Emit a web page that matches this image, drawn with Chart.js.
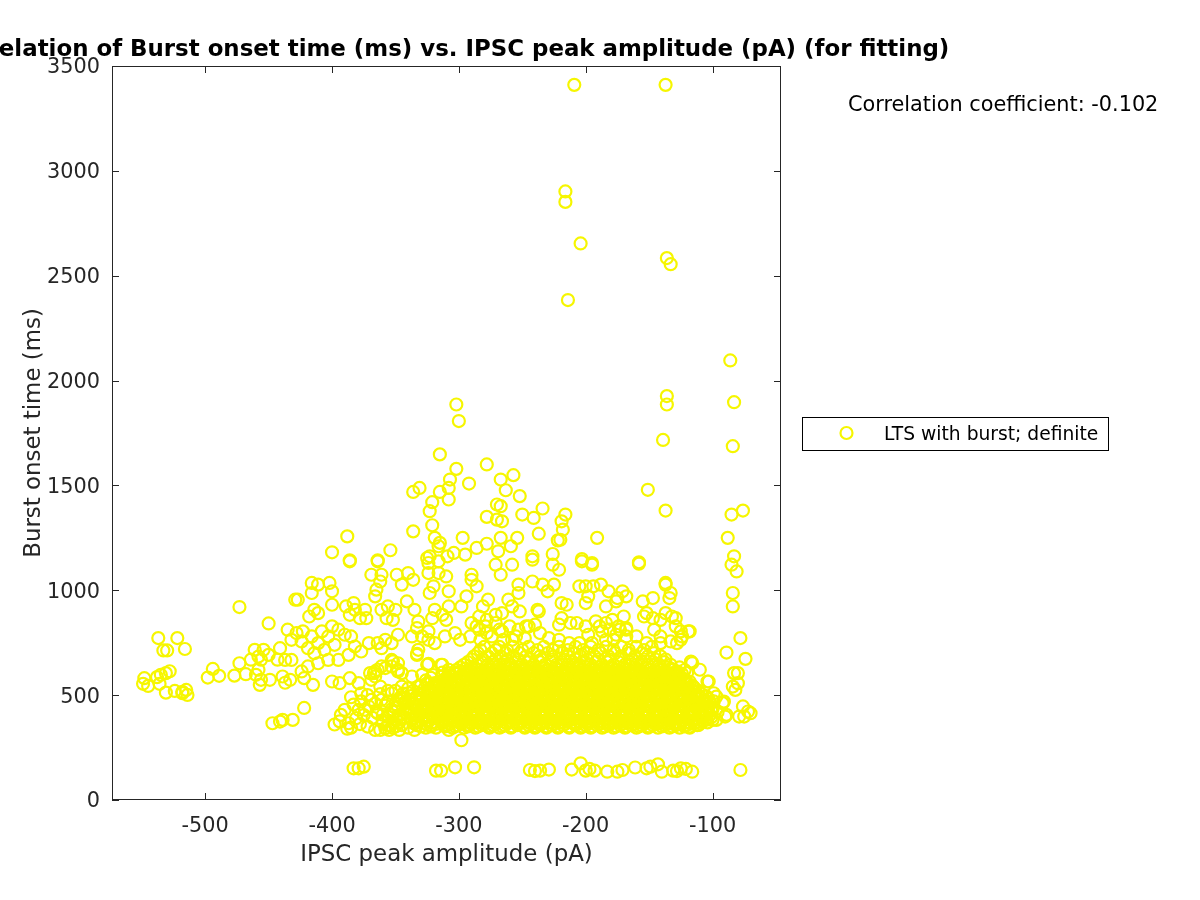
<!DOCTYPE html>
<html><head><meta charset="utf-8">
<script src="https://cdn.jsdelivr.net/npm/chart.js@4.4.1/dist/chart.umd.min.js"></script>
<style>html,body{margin:0;padding:0;background:#fff;overflow:hidden}canvas{display:block}</style>
</head><body><canvas id="c" width="1200" height="900"></canvas>
<script>
const chartTitle = 'Correlation of Burst onset time (ms) vs. IPSC peak amplitude (pA) (for fitting)';
const xLabel = 'IPSC peak amplitude (pA)';
const yLabel = 'Burst onset time (ms)';
const seriesLabel = 'LTS with burst; definite';
const corrText = 'Correlation coefficient: -0.102';
const xTicks = [-500, -400, -300, -200, -100];
const yTicks = [0, 500, 1000, 1500, 2000, 2500, 3000, 3500];

const outliers = [[-209,3410],[-137,3410],[-216,2902],[-216,2852],[-204,2654],[-214,2384],[-136,2584],[-133,2555],[-86,2096],[-136,1926],[-136,1886],[-83,1897],[-139,1717],[-84,1687],[-302,1886],[-300,1807],[-315,1648],[-278,1600],[-302,1579],[-267,1528],[-257,1549],[-292,1509],[-307,1528],[-308,1488],[-263,1477],[-252,1449],[-151,1479],[-336,1469],[-331,1488],[-315,1469],[-321,1420],[-323,1377],[-308,1433],[-270,1409],[-267,1401],[-270,1337],[-266,1329],[-278,1350],[-250,1361],[-241,1345],[-234,1390],[-216,1361],[-219,1329],[-218,1289],[-137,1380],[-76,1380],[-85,1361]];

const upper = [[-336,1281],[-321,1310],[-319,1250],[-315,1226],[-316,1210],[-388,1257],[-400,1181],[-354,1191],[-386,1143],[-364,1143],[-325,1154],[-323,1162],[-237,1270],[-222,1238],[-220,1241],[-191,1250],[-88,1250],[-297,1250],[-278,1222],[-267,1250],[-254,1250],[-286,1202],[-269,1186],[-259,1210],[-242,1162],[-226,1173],[-203,1149],[-195,1130],[-158,1133],[-83,1162],[-309,1162],[-304,1178],[-295,1170]];

const midLeft = [[-386,1138],[-364,1138],[-416,1035],[-411,1027],[-402,1035],[-400,995],[-416,987],[-429,955],[-427,955],[-414,907],[-418,875],[-411,891],[-400,931],[-389,923],[-383,939],[-382,907],[-374,907],[-373,867],[-378,867],[-386,883],[-369,1074],[-361,1074],[-362,1042],[-365,1003],[-366,971],[-349,1074],[-340,1082],[-336,1050],[-345,1027],[-361,907],[-356,923],[-350,907],[-357,867],[-352,859],[-341,947],[-335,907],[-332,851],[-333,820],[-324,1130],[-316,1138],[-324,1082],[-316,1082],[-310,1066],[-320,1019],[-323,987],[-308,995],[-319,907],[-313,883],[-321,867],[-308,923],[-310,859]];

const band = [[-435,812],[-428,796],[-423,804],[-432,764],[-424,756],[-416,780],[-408,804],[-400,828],[-395,812],[-403,780],[-411,748],[-419,724],[-414,700],[-406,716],[-398,740],[-390,788],[-385,780],[-382,732],[-377,708],[-387,692],[-395,668],[-403,668],[-411,652],[-419,637],[-424,613],[-432,668],[-437,668],[-439,589],[-433,573],[-422,581],[-415,549],[-400,565],[-394,557],[-386,581],[-379,557],[-377,509],
[-371,748],[-364,748],[-358,764],[-353,748],[-348,788],[-361,724],[-367,605],[-361,637],[-353,668],[-348,652],[-369,573],[-362,541],
[-337,780],[-329,780],[-324,764],[-319,748],[-311,780],[-332,716],[-333,692],[-324,804],[-325,645],[-313,645],[-308,605],
[-393,406],[-387,366],[-379,430],[-371,446],[-364,414],[-366,334],[-358,342],[-350,350],[-356,398],[-348,477],[-342,430],[-337,382],[-335,334],[-329,446],[-324,398],[-319,446],[-313,366],[-308,334],[-332,541],[-324,509],[-319,557],[-313,589],[-308,621],[-340,509],[-345,541],[-353,509],[-361,477],[-369,477],[-374,430],[-316,477],[-311,414],[-306,477],[-345,605],[-337,589],[-329,597],[-366,589],[-364,621],[-353,637],[-348,621],
[-422,439],[-439,382],[-431,382],[-352,661],[-358,629],[-348,613],[-366,613],[-370,605],[-362,334],[-355,334],[-347,334],[-333,697],[-324,649],[-314,645],
[-385,345],[-378,362],[-372,350],[-381,390],[-375,405],[-368,392],[-360,380],[-352,370],[-346,390],[-390,430],[-383,455],[-377,470],[-366,460],[-358,450],[-350,440],[-343,460],[-385,490],[-372,500],[-362,505],[-356,520],[-346,490],[-340,470],[-394,375],[-398,360],[-388,340]];

const left = [[-473,920],[-450,842],[-537,772],[-522,772],[-533,713],[-530,713],[-516,720],[-494,625],[-498,584],[-489,592],[-477,593],[-473,652],[-468,600],
[-548,581],[-549,554],[-545,544],[-538,586],[-535,597],[-531,605],[-528,614],[-536,554],[-531,512],[-524,520],[-518,516],[-515,525],[-514,501],[-518,509],
[-461,716],[-454,716],[-458,684],[-450,692],[-464,669],[-456,669],[-441,724],[-443,669],[-460,597],[-456,573],[-457,549],[-449,573],[-458,621],[-447,366],[-441,374],[-437,559]];

const right3 = [[-271,1122],[-258,1122],[-267,1074],[-242,1146],[-226,1122],[-221,1098],[-203,1138],[-195,1122],
[-290,1074],[-290,1050],[-286,1019],[-294,971],[-298,923],
[-253,1027],[-242,1042],[-234,1027],[-230,995],[-225,1027],[-253,987],[-261,955],[-258,923],[-252,899],[-238,907],
[-277,955],[-281,923],[-271,883],[-266,891],[-284,875],
[-205,1019],[-200,1019],[-194,1019],[-188,1027],[-182,995],[-175,963],[-198,971],[-200,939],[-184,923],[-176,947],
[-219,939],[-215,931],[-219,867],[-221,836],[-212,844],[-237,899],
[-200,828],[-192,852],[-184,844],[-179,859],[-174,828],[-198,788],[-187,804],
[-290,844],[-284,812],[-279,828],[-271,844],[-266,804],[-274,780],[-253,812],[-245,828],[-240,836],[-248,772],[-258,764],[-303,796],[-299,764],
[-229,772],[-221,764],[-213,748],[-205,748],[-195,748],[-184,764],[-176,788],
[-207,844],[-189,828],[-181,812],[-173,812],[-168,820],[-178,764],[-168,780],[-160,780],[-278,859],[-286,828],[-278,796],[-268,812],[-260,828],[-247,828],[-236,796],[-255,780],[-265,764],[-283,764],[-291,780]];

const right4 = [[-158,1127],[-85,1122],[-81,1090],[-84,987],[-84,923],[-137,1027],[-133,987],[-134,963],[-155,947],[-147,963],[-171,995],[-168,971],[-170,875],[-154,875],[-147,867],[-137,891],[-129,867],[-118,804],[-124,780],[-128,748],[-168,812],[-78,772],[-89,703],[-74,673],[-83,605],[-80,605],[-84,541],[-80,557],[-82,525],[-76,446],[-72,422],[-70,414],[-79,398],[-75,398],
[-117,660],[-110,621],[-103,565],[-97,493],[-92,462],[-89,406],[-100,382],[-110,366],[-118,350],[-116,653],[-104,565],[-99,509],[-91,469],[-90,398],[-111,358],
[-152,891],[-141,859],[-132,875],[-129,828],[-125,804],[-119,804],[-125,764],[-133,756],[-146,812],[-141,780],[-152,748],[-141,748],[-137,1035]];

const floor = [[-383,151],[-379,151],[-375,159],[-318,140],[-314,140],[-303,156],[-288,156],[-298,285],[-244,143],[-240,138],[-236,140],[-229,145],[-211,145],[-204,175],[-200,140],[-197,148],[-193,140],[-183,135],[-175,135],[-171,143],[-161,155],[-152,151],[-149,159],[-143,170],[-140,135],[-131,140],[-128,138],[-125,151],[-121,148],[-116,135],[-78,143]];

const coreRowY = [345,357,370,382,395,407,420,432,445,457,470,482,495,507,520,532,545,557,570,582,595,607,620,632,645,657,670,685,700,715,730];
const coreRowX = [
[-352,-340,-326,-318,-305,-296,-287,-276,-268,-259,-248,-240,-231,-222,-213,-204,-196,-187,-178,-169,-160,-151,-143,-134,-126,-118],
[-356,-345,-333,-322,-311,-301,-292,-282,-273,-264,-254,-245,-236,-227,-218,-208,-200,-191,-182,-173,-164,-156,-147,-138,-129,-121,-112],
[-360,-347,-333,-321,-312,-300,-291,-283,-272,-263,-254,-245,-236,-228,-219,-209,-200,-191,-182,-174,-165,-156,-147,-139,-130,-121,-113,-104],
[-349,-337,-325,-314,-303,-294,-285,-275,-266,-256,-247,-239,-230,-221,-212,-203,-194,-185,-176,-167,-158,-149,-141,-132,-123,-114,-105,-97],
[-355,-343,-329,-316,-307,-297,-289,-279,-270,-260,-251,-242,-234,-225,-216,-207,-198,-189,-180,-171,-162,-153,-145,-136,-127,-118,-109,-101],
[-360,-346,-333,-321,-310,-300,-291,-281,-272,-263,-253,-245,-236,-227,-218,-209,-200,-191,-182,-173,-164,-155,-146,-138,-129,-120,-111,-102],
[-365,-352,-338,-326,-314,-305,-295,-286,-276,-267,-257,-249,-240,-231,-222,-213,-204,-195,-186,-177,-168,-159,-150,-142,-133,-124,-115,-106,-96],
[-353,-340,-328,-316,-306,-296,-287,-278,-269,-259,-251,-242,-233,-224,-215,-206,-197,-188,-180,-171,-162,-153,-144,-135,-126,-117,-108,-100],
[-348,-334,-321,-310,-301,-291,-282,-273,-264,-254,-246,-237,-228,-219,-210,-201,-192,-184,-175,-166,-157,-148,-139,-130,-121,-112,-103],
[-350,-337,-325,-313,-304,-294,-285,-276,-266,-258,-249,-240,-231,-222,-213,-204,-195,-186,-178,-169,-160,-151,-142,-133,-124,-116,-106],
[-356,-342,-330,-317,-306,-297,-288,-278,-269,-260,-251,-243,-233,-224,-215,-206,-198,-189,-180,-171,-162,-153,-144,-135,-126,-118,-108,-99],
[-345,-334,-322,-311,-301,-292,-283,-273,-264,-255,-247,-238,-229,-220,-211,-202,-193,-184,-175,-166,-157,-149,-140,-131,-122,-113,-103],
[-338,-325,-313,-303,-293,-284,-275,-265,-256,-247,-238,-229,-220,-211,-203,-194,-185,-176,-167,-158,-149,-141,-132,-123,-114,-105],
[-344,-331,-319,-308,-298,-289,-279,-270,-261,-252,-242,-233,-224,-215,-207,-198,-189,-180,-171,-162,-153,-145,-136,-127,-118,-109],
[-350,-336,-322,-309,-299,-290,-280,-271,-262,-253,-244,-235,-226,-217,-208,-199,-190,-181,-172,-164,-155,-146,-137,-128,-119,-111],
[-340,-327,-314,-304,-294,-285,-275,-266,-257,-248,-239,-230,-221,-212,-203,-194,-185,-176,-168,-159,-150,-141,-132,-123,-114],
[-330,-317,-305,-295,-286,-277,-268,-258,-249,-240,-231,-222,-213,-205,-196,-187,-178,-169,-160,-151,-142,-134,-125,-116],
[-325,-311,-300,-290,-281,-272,-263,-254,-244,-236,-227,-218,-209,-200,-191,-182,-173,-164,-156,-147,-138,-129,-120],
[-326,-312,-301,-291,-282,-273,-263,-254,-245,-236,-227,-218,-209,-200,-192,-183,-174,-165,-156,-147,-138,-129,-121],
[-322,-309,-297,-286,-277,-268,-258,-249,-240,-231,-222,-213,-204,-196,-187,-178,-169,-160,-151,-142,-133,-125],
[-320,-307,-297,-288,-279,-269,-260,-251,-242,-233,-224,-215,-206,-197,-188,-179,-170,-162,-153,-144,-135,-126],
[-313,-302,-292,-283,-274,-265,-256,-246,-237,-228,-219,-210,-202,-193,-184,-175,-166,-157,-148,-139,-130,-120],
[-302,-292,-283,-274,-265,-256,-247,-238,-229,-220,-211,-202,-193,-184,-175,-166,-157,-149,-140,-131,-122],
[-299,-288,-279,-270,-261,-252,-242,-233,-224,-215,-207,-198,-189,-180,-171,-162,-153,-144,-135,-126],
[-296,-286,-277,-268,-259,-250,-241,-232,-223,-214,-205,-196,-187,-178,-169,-160,-151,-142,-133],
[-293,-282,-273,-264,-255,-245,-236,-227,-219,-210,-201,-192,-183,-174,-165,-156,-147,-138],
[-290,-281,-271,-262,-253,-244,-235,-226,-217,-208,-199,-190,-181,-172,-163,-154,-145,-137],
[-288,-277,-267,-257,-247,-236,-225,-214,-204,-193,-182,-172,-161,-151,-141],
[-285,-274,-263,-252,-241,-230,-219,-209,-198,-188,-177,-166,-156,-146],
[-283,-271,-262,-250,-238,-226,-214,-202,-190,-178,-166,-154],
[-280,-268,-257,-245,-233,-221,-208,-196,-184,-172,-160,-148]
];

const fillRowY = [351,364,376,389,401,414,426,439,451,464,476,489,501,514,526,539,551,564,576,589,601,614,626];
const fillRowX = [
[-330,-322,-311,-303,-293,-285,-275,-266,-258,-248,-239,-231,-221,-213,-203,-195,-185,-176,-168,-158,-150,-140,-132,-122],
[-335,-326,-317,-307,-298,-290,-280,-271,-262,-253,-243,-235,-225,-216,-208,-198,-189,-181,-171,-162,-154,-144,-135,-127,-117],
[-332,-324,-314,-305,-297,-287,-278,-269,-259,-251,-241,-232,-224,-214,-205,-197,-187,-178,-170,-160,-151,-143,-133,-124,-116,-108],
[-337,-328,-320,-310,-301,-293,-283,-274,-266,-256,-247,-239,-229,-220,-212,-202,-193,-185,-175,-166,-158,-148,-139,-131,-121,-112],
[-334,-325,-317,-307,-298,-289,-280,-271,-262,-252,-244,-234,-226,-216,-207,-199,-189,-180,-172,-162,-153,-145,-135,-126,-118,-107],
[-339,-331,-321,-313,-303,-294,-286,-276,-268,-258,-249,-241,-231,-223,-213,-205,-195,-186,-178,-168,-159,-151,-141,-132,-123,-114,-104],
[-335,-327,-317,-308,-300,-290,-281,-273,-263,-254,-246,-236,-227,-219,-209,-200,-192,-182,-173,-165,-155,-146,-138,-128,-119,-111,-101],
[-338,-329,-321,-311,-302,-294,-284,-275,-267,-257,-248,-240,-230,-221,-213,-203,-194,-186,-176,-167,-159,-149,-140,-132,-122,-113,-104],
[-333,-325,-315,-306,-298,-288,-279,-271,-261,-252,-244,-234,-225,-217,-207,-198,-190,-180,-171,-163,-153,-144,-136,-126,-117,-109],
[-336,-327,-319,-309,-300,-292,-282,-273,-265,-255,-246,-238,-228,-219,-211,-201,-192,-184,-174,-165,-157,-147,-138,-130,-120,-111,-102],
[-331,-323,-313,-304,-296,-286,-277,-269,-259,-250,-242,-232,-223,-215,-205,-196,-188,-178,-169,-161,-151,-142,-134,-124,-115,-106],
[-334,-325,-317,-307,-298,-290,-280,-271,-263,-253,-244,-236,-226,-217,-209,-199,-190,-182,-172,-163,-155,-145,-136,-128,-118,-110],
[-330,-322,-312,-303,-295,-285,-276,-268,-258,-249,-241,-231,-222,-214,-204,-195,-187,-177,-168,-160,-150,-141,-133,-123,-114],
[-327,-319,-309,-300,-292,-282,-273,-265,-255,-246,-238,-228,-219,-211,-201,-192,-184,-174,-165,-157,-147,-138,-130,-120,-113],
[-324,-316,-306,-297,-289,-279,-270,-262,-252,-243,-235,-225,-216,-208,-198,-189,-181,-171,-162,-154,-144,-135,-127,-117],
[-321,-313,-303,-294,-286,-276,-267,-259,-249,-240,-232,-222,-213,-205,-195,-186,-178,-168,-159,-151,-141,-132,-124,-115],
[-318,-310,-300,-291,-283,-273,-264,-256,-246,-237,-229,-219,-210,-202,-192,-183,-175,-165,-156,-148,-138,-129,-120],
[-315,-307,-297,-288,-280,-270,-261,-253,-243,-234,-226,-216,-207,-199,-189,-180,-172,-162,-153,-145,-135,-126,-118],
[-311,-303,-293,-284,-276,-266,-257,-249,-239,-230,-222,-212,-203,-195,-185,-176,-168,-158,-149,-141,-131,-122],
[-307,-299,-289,-280,-272,-262,-253,-245,-235,-226,-218,-208,-199,-191,-181,-172,-164,-154,-145,-137,-127],
[-303,-295,-285,-276,-268,-258,-249,-241,-231,-222,-214,-204,-195,-187,-177,-168,-160,-150,-141,-133,-124],
[-299,-291,-281,-272,-264,-254,-245,-237,-227,-218,-210,-200,-191,-183,-173,-164,-156,-146,-137,-128],
[-295,-287,-277,-268,-260,-250,-241,-233,-223,-214,-206,-196,-187,-179,-169,-160,-152,-142,-133]
];

const densePairs = [];
coreRowY.forEach((y, i) => coreRowX[i].forEach(x => densePairs.push([x, y])));
fillRowY.forEach((y, i) => fillRowX[i].forEach(x => densePairs.push([x, y])));
const points = [].concat(outliers, upper, midLeft, band, left, right3, right4, floor, densePairs)
  .map(p => ({x: p[0], y: p[1]}));

const MARK = 'rgb(246,246,0)';
const AX = '#262626';
const FONT = 'DejaVu Sans';

const framePlugin = {
  id: 'frame',
  afterDatasetsDraw(chart) {
    const ctx = chart.ctx, a = chart.chartArea;
    const sx = chart.scales.x, sy = chart.scales.y;
    ctx.save();
    ctx.strokeStyle = AX; ctx.lineWidth = 1;
    ctx.strokeRect(Math.round(a.left) + 0.5, Math.round(a.top) + 0.5, Math.round(a.right - a.left) - 1, Math.round(a.bottom - a.top) - 1);
    const TL = 7;
    ctx.beginPath();
    xTicks.forEach(v => {
      const px = Math.round(sx.getPixelForValue(v)) + 0.5;
      ctx.moveTo(px, a.bottom); ctx.lineTo(px, a.bottom - TL);
      ctx.moveTo(px, a.top); ctx.lineTo(px, a.top + TL);
    });
    yTicks.forEach(v => {
      const py = Math.round(sy.getPixelForValue(v)) + 0.5;
      ctx.moveTo(a.left, py); ctx.lineTo(a.left + TL, py);
      ctx.moveTo(a.right, py); ctx.lineTo(a.right - TL, py);
    });
    ctx.stroke();

    ctx.fillStyle = '#000';
    ctx.font = 'bold 22.9px "' + FONT + '"';
    ctx.textAlign = 'center'; ctx.textBaseline = 'alphabetic';
    ctx.fillText(chartTitle, (a.left + a.right) / 2, 56);

    ctx.fillStyle = AX;
    ctx.font = '22.9px "' + FONT + '"';
    ctx.fillText(xLabel, (a.left + a.right) / 2, 861);
    ctx.save();
    ctx.translate(40, (a.top + a.bottom) / 2);
    ctx.rotate(-Math.PI / 2);
    ctx.fillText(yLabel, 0, 0);
    ctx.restore();

    ctx.fillStyle = '#000';
    ctx.font = '20.8px "' + FONT + '"';
    ctx.textAlign = 'left';
    ctx.fillText(corrText, 848, 111);

    ctx.fillStyle = '#fff';
    ctx.fillRect(802, 417, 306, 33);
    ctx.strokeStyle = '#000'; ctx.lineWidth = 1;
    ctx.strokeRect(802.5, 417.5, 306, 33);
    ctx.strokeStyle = MARK; ctx.lineWidth = 2.2;
    ctx.beginPath(); ctx.arc(846.5, 433, 6, 0, Math.PI * 2); ctx.stroke();
    ctx.fillStyle = '#000';
    ctx.font = '18.7px "' + FONT + '"';
    ctx.fillText(seriesLabel, 884, 440);
    ctx.restore();
  }
};

const bg = { id: 'bg', beforeDraw(chart) { const c = chart.ctx; c.save(); c.fillStyle = '#fff'; c.fillRect(0, 0, chart.width, chart.height); c.restore(); } };

new Chart(document.getElementById('c'), {
  type: 'scatter',
  data: { datasets: [{
    label: seriesLabel, data: points, pointStyle: 'circle', pointRadius: 6, pointHoverRadius: 6,
    borderColor: MARK, backgroundColor: 'rgba(0,0,0,0)', borderWidth: 2.2, pointBorderWidth: 2.2
  }]},
  options: {
    responsive: false, animation: false, devicePixelRatio: 1,
    layout: { padding: { left: 0, right: 419, top: 66, bottom: 0 } },
    plugins: { legend: { display: false }, title: { display: false }, tooltip: { enabled: false } },
    events: [],
    scales: {
      x: {
        type: 'linear', min: -573.5, max: -46,
        afterBuildTicks: s => { s.ticks = xTicks.map(v => ({ value: v })); },
        afterFit: s => { s.height = 100; },
        grid: { display: false, drawTicks: false }, border: { display: false },
        ticks: { color: AX, font: { family: FONT, size: 20.8 }, padding: 14, maxRotation: 0, callback: v => String(v) }
      },
      y: {
        type: 'linear', min: 0, max: 3500,
        afterBuildTicks: s => { s.ticks = yTicks.map(v => ({ value: v })); },
        afterFit: s => { s.width = 112; },
        grid: { display: false, drawTicks: false }, border: { display: false },
        ticks: { color: AX, font: { family: FONT, size: 20.8 }, padding: 12, labelOffset: 2, callback: v => String(v) }
      }
    }
  },
  plugins: [bg, framePlugin]
});
</script>
</body></html>
